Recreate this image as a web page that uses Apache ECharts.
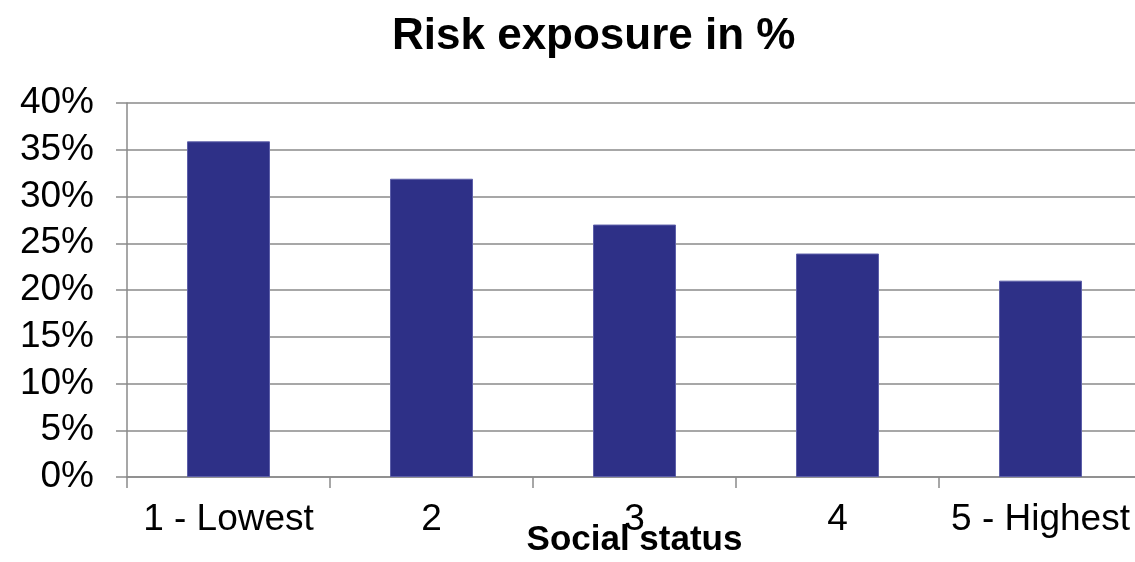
<!DOCTYPE html>
<html>
<head>
<meta charset="utf-8">
<script src="https://cdn.jsdelivr.net/npm/echarts@6/dist/echarts.min.js"></script>
<style>
  html, body { margin: 0; padding: 0; background: #fff; }
  #chart { width: 1135px; height: 562px; }
</style>
</head>
<body>
<div id="chart"></div>
<script>
var categories = ['1 - Lowest', '2', '3', '4', '5 - Highest'];
var riskValues = [35.9, 31.9, 27.0, 23.9, 21.0];
var yTicks = { min: 0, max: 40, interval: 5 };

var FONT = '"Liberation Sans", Arial, sans-serif';
var chart = echarts.init(document.getElementById('chart'), null, { renderer: 'canvas' });
chart.setOption({
  backgroundColor: '#ffffff',
  animation: false,
  title: {
    text: 'Risk exposure in %',
    left: 387,
    top: 10,
    textStyle: { fontFamily: FONT, fontSize: 44, fontWeight: 'bold', color: '#000' }
  },
  grid: { left: 127, top: 103, width: 1015, height: 374, containLabel: false, outerBoundsMode: 'none' },
  xAxis: {
    type: 'category',
    data: categories,
    boundaryGap: true,
    name: 'Social status',
    nameLocation: 'middle',
    nameGap: 46,
    nameMoveOverlap: false,
    nameTextStyle: { fontFamily: FONT, fontSize: 35, fontWeight: 'bold', color: '#000' },
    axisLine: { show: true, lineStyle: { color: '#8a8a8a', width: 1.5 } },
    axisTick: { show: true, alignWithLabel: false, length: 11, lineStyle: { color: '#8a8a8a', width: 1.5 } },
    axisLabel: { interval: 0, fontFamily: FONT, fontSize: 37, color: '#000', margin: 24, hideOverlap: false },
    splitLine: { show: false }
  },
  yAxis: {
    type: 'value',
    min: yTicks.min,
    max: yTicks.max,
    interval: yTicks.interval,
    axisLine: { show: true, lineStyle: { color: '#8a8a8a', width: 1.5 } },
    axisTick: { show: true, length: 11, lineStyle: { color: '#8a8a8a', width: 1.5 } },
    axisLabel: { fontFamily: FONT, fontSize: 37, color: '#000', margin: 33, formatter: '{value}%' },
    splitLine: { show: true, lineStyle: { color: '#8a8a8a', width: 1.5 } }
  },
  series: [{
    type: 'bar',
    data: riskValues,
    barWidth: 83,
    itemStyle: { color: '#2e3087', borderColor: '#5d5fa9', borderWidth: 1 }
  }]
});
</script>
</body>
</html>
